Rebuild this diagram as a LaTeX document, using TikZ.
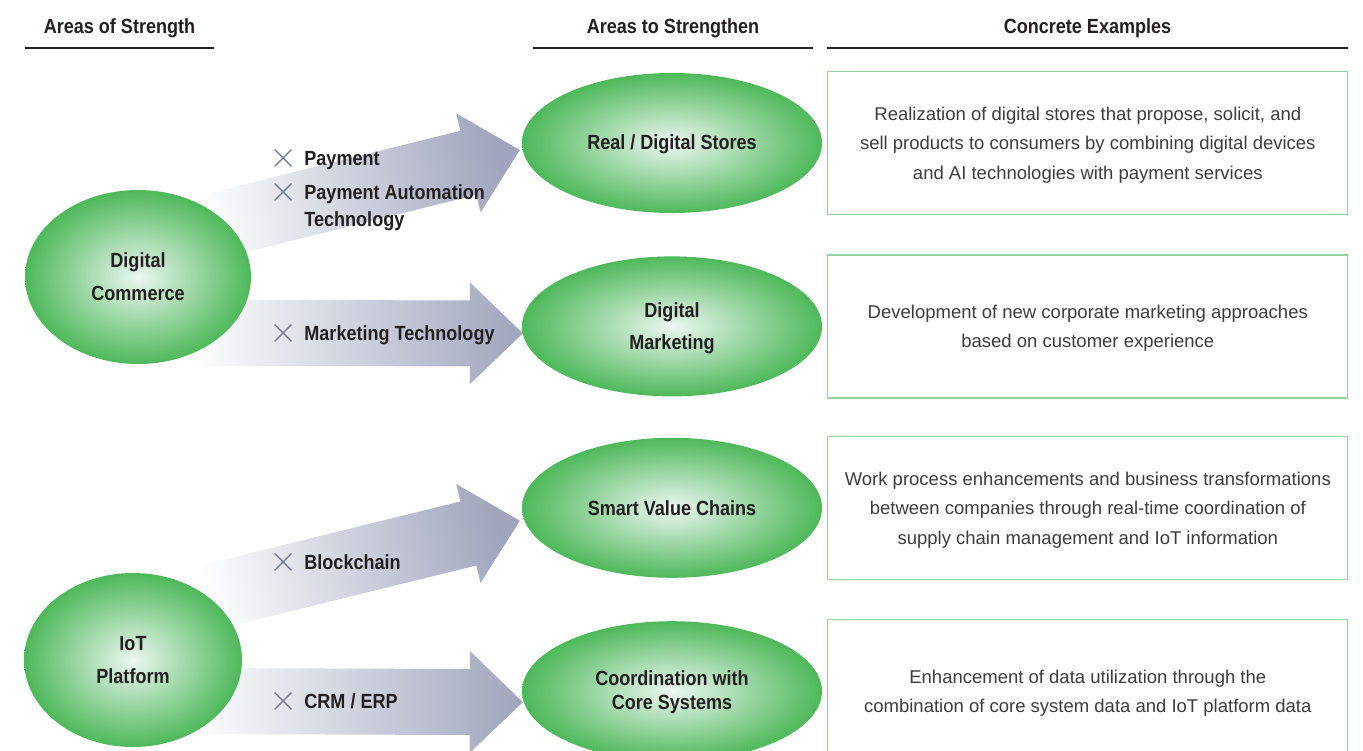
\documentclass[tikz,border=0pt]{standalone}
\usepackage{fontspec}
\setmainfont{Liberation Sans}
\newfontfamily\tagfont{Liberation Sans}[FakeStretch=0.88]
\usetikzlibrary{positioning,shapes.geometric,calc,backgrounds}
\definecolor{cInk}{RGB}{35,31,32}
\definecolor{cText}{RGB}{60,60,60}
\definecolor{cGreen}{RGB}{78,184,90}
\definecolor{cGlow}{RGB}{236,247,241}
\definecolor{cFrame}{RGB}{146,212,158}
\definecolor{cFlow}{RGB}{160,165,189}
\definecolor{cCross}{RGB}{112,117,145}
\newcommand{\tagsize}{\fontsize{20.5}{27}\selectfont}
\newcommand{\xmark}{\raisebox{-2pt}{\color{cCross}\scalebox{1.75}{$\times$}}\hspace{7pt}}
% block arrow from #1 to #2, shading turned by #3
\newcommand{\flowarrow}[3]{%
  \coordinate (fh) at ($(#2)!53pt!(#1)$);
  \shade[flow, shading angle=#3]
    ($(#1)!33pt!90:(#2)$) -- ($(fh)!33pt!-90:(#1)$) -- ($(fh)!51pt!-90:(#1)$)
    -- (#2) -- ($(fh)!51pt!90:(#1)$) -- ($(fh)!33pt!90:(#1)$)
    -- ($(#1)!33pt!-90:(#2)$) -- cycle;
}
\tikzset{
  head/.style={font=\tagfont\bfseries\tagsize, text=cInk,
    minimum height=40pt, inner sep=0pt},
  rule/.style={line width=1.5pt, draw=cInk},
  strength/.style={ellipse, inner sep=0pt, minimum width=226pt,
    minimum height=174pt, inner color=cGlow, outer color=cGreen,
    align=center, text=cInk, text depth=-2pt,
    font=\tagfont\bfseries\fontsize{20.5}{33}\selectfont},
  target/.style={strength, minimum width=300pt, minimum height=140pt,
    font=\tagfont\bfseries\fontsize{20.5}{32}\selectfont},
  example/.style={rectangle, draw=cFrame, line width=1.2pt,
    minimum width=520pt, minimum height=143pt, align=center,
    text=cText, text depth=-2pt, font=\fontsize{18.5}{29.5}\selectfont},
  via/.style={anchor=base west, inner sep=0pt, align=left, text=cInk,
    font=\tagfont\bfseries\tagsize},
  flow/.style={left color=white, right color=cFlow},
}
\begin{document}
\begin{tikzpicture}[x=1pt, y=-1pt]
\useasboundingbox (0,0) rectangle (1363,750);

% column heads
\node[head, minimum width=189pt] (hStrength) at (119.5,28) {Areas of Strength};
\node[head, minimum width=280pt] (hTarget) at (673,28) {Areas to Strengthen};
\node[head, minimum width=521pt] (hExample) at (1087.5,28) {Concrete Examples};
\foreach \h in {hStrength,hTarget,hExample}
  \draw[rule] (\h.south west) -- (\h.south east);

% strengths
\node[strength, text depth=-6pt] (dc) at (138,277) {Digital\\Commerce};
\node[strength, minimum width=218pt] (iot) at (133,660) {IoT\\Platform};

% areas to strengthen
\node[target, text depth=1pt] (stores) at (672,143) {Real / Digital Stores};
\node[target, below=43pt of stores] (mkt) {Digital\\Marketing};
\node[target, below=41pt of mkt, text depth=0pt] (svc) {Smart Value Chains};
\node[target, below=43pt of svc, text depth=2pt,
  font=\tagfont\bfseries\fontsize{20.5}{24}\selectfont] (core)
  {Coordination with\\Core Systems};

% examples
\node[example, right=5pt of stores] (exStores)
  {Realization of digital stores that propose, solicit, and\\
   sell products to consumers by combining digital devices\\
   and AI technologies with payment services};
\node[example, right=5pt of mkt] (exMkt)
  {Development of new corporate marketing approaches\\
   based on customer experience};
\node[example, right=5pt of svc] (exSvc)
  {Work process enhancements and business transformations\\
   between companies through real-time coordination of\\
   supply chain management and IoT information};
\node[example, right=5pt of core] (exCore)
  {Enhancement of data utilization through the\\
   combination of core system data and IoT platform data};

% arrows behind the ellipses
\coordinate (aStores) at ($(dc.center)+(52,-45)$);
\coordinate (tStores) at ($(stores.west)+(-2,7)$);
\coordinate (aMkt) at ($(dc.center)+(52,56)$);
\coordinate (tMkt) at ($(mkt.west)+(1,7)$);
\coordinate (aSvc) at ($(iot.center)+(57,-58)$);
\coordinate (tSvc) at ($(svc.west)+(-2,13)$);
\coordinate (aCore) at ($(iot.center)+(57,41)$);
\coordinate (tCore) at ($(core.west)+(1,11)$);
\begin{scope}[on background layer]
  \flowarrow{aStores}{tStores}{104}
  \flowarrow{aMkt}{tMkt}{90}
  \flowarrow{aSvc}{tSvc}{104}
  \flowarrow{aCore}{tCore}{90}
\end{scope}

% technologies
\node[via] (lPay) at (269,165) {\xmark Payment};
\node[via] (lAuto) at (269,226) {\xmark Payment Automation\\\phantom{\xmark}Technology};
\node[via] (lMkt) at (269,340) {\xmark Marketing Technology};
\node[via] (lChain) at (269,569) {\xmark Blockchain};
\node[via] (lErp) at (269,708) {\xmark CRM / ERP};

\end{tikzpicture}
\end{document}
